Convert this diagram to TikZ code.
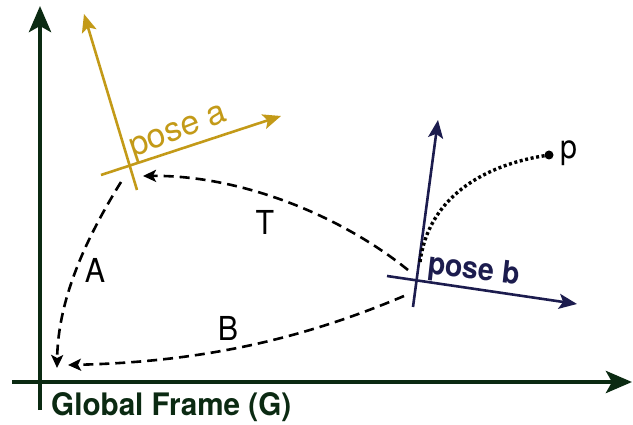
\documentclass[tikz,border=0pt]{standalone}
\usepackage{fontspec}
\setmainfont{TeX Gyre Heros}
\usetikzlibrary{arrows.meta}
\definecolor{gfr}{HTML}{0B2A12}
\definecolor{gold}{HTML}{C39A18}
\definecolor{navy}{HTML}{1C1C4E}
\tikzset{
  gaxis/.style={gfr,line width=4.5pt,-{Stealth[length=26pt,width=22pt,inset=6pt]}},
  aaxis/.style={gold,line width=2.6pt,-{Stealth[length=18pt,width=15pt,inset=4pt]}},
  baxis/.style={navy,line width=2.6pt,-{Stealth[length=18pt,width=15pt,inset=4pt]}},
  dashcurve/.style={black,line width=2.6pt,dash pattern=on 10pt off 6pt,-{Stealth[length=13pt,width=12pt,inset=3pt]}},
  dotcurve/.style={black,line width=3.4pt,dash pattern=on 3pt off 2.6pt},
  lbl/.style={font=\fontsize{33}{35}\selectfont,inner sep=0pt,xscale=0.92},
}
\begin{document}
\begin{tikzpicture}[x=1pt,y=-1pt]
\useasboundingbox (0,0) rectangle (633,425);
% global frame
\coordinate (gy0) at (40,410);
\coordinate (gy1) at (40,6);
\coordinate (gx0) at (12,382);
\coordinate (gx1) at (632,382);
\draw[gaxis] (gy0) -- (gy1);
\draw[gaxis] (gx0) -- (gx1);
\node[lbl,gfr,anchor=base west,font=\bfseries\fontsize{31}{33}\selectfont,xscale=1.04] (gl) at (51,415) {Global Frame (G)};
% pose a
\coordinate (ay0) at (137,190);
\coordinate (ay1) at (84,14);
\coordinate (ax0) at (101,175);
\coordinate (ax1) at (281,116);
\draw[aaxis] (ay0) -- (ay1);
\draw[aaxis] (ax0) -- (ax1);
\node[lbl,gold,rotate=20,anchor=base west,font=\fontsize{34}{35}\selectfont,xscale=1.08] (al) at (133,158) {pose a};
% pose b
\coordinate (by0) at (413,307);
\coordinate (by1) at (438,120);
\coordinate (bx0) at (387,276);
\coordinate (bx1) at (577,304);
\draw[baxis] (by0) -- (by1);
\draw[baxis] (bx0) -- (bx1);
\node[lbl,navy,rotate=-7,anchor=base west,font=\bfseries\fontsize{31}{33}\selectfont] (bl) at (427,273) {pose b};
% point p
\node[circle,fill=black,inner sep=0pt,minimum size=9pt] (p) at (549,155) {};
\node[lbl,anchor=west] (pl) at (560,153) {p};
\coordinate (ps) at (420,262);
\draw[dotcurve] (ps) .. controls (428,200) and (480,165) .. (p.center);
% transforms
\coordinate (ts) at (408,270);
\coordinate (te) at (143,176);
\draw[dashcurve] (ts) .. controls (340,215) and (240,175) .. (te);
\node[lbl] (tl) at (265,222) {T};
\coordinate (as) at (121,182);
\coordinate (ae) at (57,368);
\draw[dashcurve] (as) .. controls (85,240) and (58,300) .. (ae);
\node[lbl] (al2) at (95,270) {A};
\coordinate (bs) at (404,296);
\coordinate (be) at (68,365);
\draw[dashcurve] (bs) .. controls (300,340) and (200,362) .. (be);
\node[lbl] (bl2) at (228,328) {B};
\end{tikzpicture}
\end{document}
